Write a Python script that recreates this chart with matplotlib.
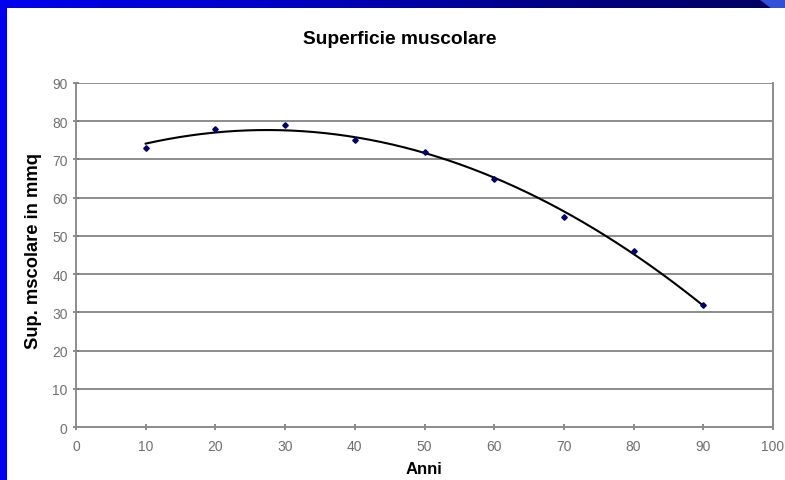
import numpy as np
import matplotlib
matplotlib.use('Agg')
import matplotlib.pyplot as plt
from matplotlib.colors import LinearSegmentedColormap

plt.rcParams['font.family'] = ['Liberation Sans', 'DejaVu Sans']

# --- DATI ---
anni = [10, 20, 30, 40, 50, 60, 70, 80, 90]
superficie = [73, 78, 79, 75, 72, 65, 55, 46, 32]
x_ticks = [0, 10, 20, 30, 40, 50, 60, 70, 80, 90, 100]
y_ticks = [0, 10, 20, 30, 40, 50, 60, 70, 80, 90]

W, H = 785, 481
fig = plt.figure(figsize=(W / 100, H / 100), dpi=100)
fig.patch.set_facecolor('white')

# cornice blu della diapositiva
ax_left = fig.add_axes([0, 0, 7 / W, 1])
ax_left.set_axis_off()
ax_left.add_patch(plt.Rectangle((0, 0), 1, 1, color='#0000ee', transform=ax_left.transAxes))

ax_top = fig.add_axes([0, 1 - 9 / H, 1, 9 / H])
cmap = LinearSegmentedColormap.from_list('slide', ['#0000ee', '#0000c8', '#00008a', '#000060'])
grad = np.linspace(0, 1, 256).reshape(1, -1)
ax_top.imshow(grad, aspect='auto', cmap=cmap, extent=[0, 1, 0, 1])
ax_top.fill([760 / W, 1, 1, 772 / W], [1, 1, 0, 0], color='#3050d8')
ax_top.set_xlim(0, 1)
ax_top.set_ylim(0, 1)
ax_top.set_axis_off()

# --- GRAFICO ---
ax = fig.add_axes([76 / W, 1 - 428 / H, (773 - 76) / W, (428 - 84) / H])
ax.set_xlim(0, 100)
ax.set_ylim(0, 90)
ax.set_xticks(x_ticks)
ax.set_yticks(y_ticks)

grid_col = '#8c8c8c'
ax.set_axisbelow(True)
ax.yaxis.grid(True, color=grid_col, linewidth=1.4)
for side in ['left', 'bottom', 'right', 'top']:
    ax.spines[side].set_color(grid_col)
    ax.spines[side].set_linewidth(1.4)
ax.spines['top'].set_visible(False)

ax.tick_params(axis='both', direction='inout', length=5, width=1.2,
               color='#777777', labelcolor='#707070', labelsize=10)
ax.tick_params(axis='x', pad=6)

# linea di tendenza polinomiale (grado 2)
coef = np.polyfit(anni, superficie, 2)
xs = np.linspace(anni[0], anni[-1], 200)
ax.plot(xs, np.polyval(coef, xs), color='black', linewidth=1.5, zorder=3)

ax.plot(anni, superficie, linestyle='none', marker='D', markersize=2.8,
        color='#000070', zorder=4)

fig.text(400 / W, 1 - 40 / H, 'Superficie muscolare', ha='center', va='center',
         fontsize=13.8, fontweight='bold')
fig.text(424 / W, 1 - 470 / H, 'Anni', ha='center', va='center',
         fontsize=12, fontweight='bold')
fig.text(34 / W, 1 - 251 / H, 'Sup. mscolare in mmq', ha='center', va='center',
         rotation=90, fontsize=13.2, fontweight='bold')

fig.savefig('out.png', dpi=100)
